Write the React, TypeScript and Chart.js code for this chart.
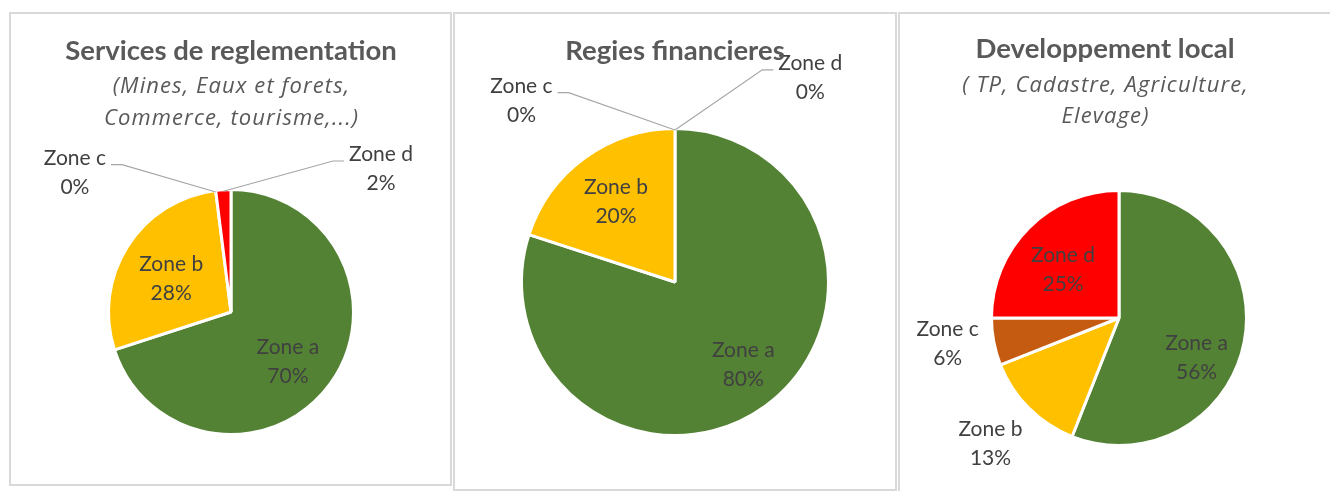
import React, { useEffect, useRef } from "react";
import { Chart, registerables } from "chart.js";

Chart.register(...registerables);

// ---------- data ----------
const categories = ["Zone a", "Zone b", "Zone c", "Zone d"];
const reglementationValues = [70, 28, 0, 2];
const regiesValues = [80, 20, 0, 0];
const developpementValues = [56, 13, 6, 25];
const zoneColors = ["#548235", "#FFC000", "#C55A11", "#FF0000"];

const reglementationTitle = "Services de reglementation";
const reglementationSubtitle = ["(Mines, Eaux et forets,", "Commerce, tourisme,...)"];
const regiesTitle = "Regies financieres";
const regiesSubtitle: string[] = [];
const developpementTitle = "Developpement local";
const developpementSubtitle = ["( TP, Cadastre, Agriculture,", "Elevage)"];

// ---------- style ----------
const FONT = "Lato, 'Open Sans', sans-serif";
const SUB_FONT = "'Open Sans', Lato, sans-serif";
const LABEL_SIZE = 21;
const LABEL_GAP = 29;
const LABEL_CAP = 15;
const BORDER_W = 3;

type Placement =
  | { inside: true; dist: number; shift: number }
  | { inside: false; dx: number; dy: number; leader: boolean }
  | null;

const sliceLabels = {
  id: "sliceLabels",
  afterDatasetsDraw(chart: any, _args: any, opts: any) {
    const ctx = chart.ctx as CanvasRenderingContext2D;
    const meta = chart.getDatasetMeta(0);
    const data: number[] = chart.data.datasets[0].data;
    const labels: string[] = chart.data.labels;
    const total = data.reduce((s, v) => s + v, 0);
    const placements: Placement[] = opts.placements || [];
    ctx.save();
    ctx.font = `${LABEL_SIZE}px ${FONT}`;
    ctx.textAlign = "center";
    ctx.textBaseline = "alphabetic";
    meta.data.forEach((arc: any, i: number) => {
      const p = placements[i];
      if (!p) return;
      const { x, y, startAngle, endAngle, outerRadius } = arc.getProps(
        ["x", "y", "startAngle", "endAngle", "outerRadius"],
        true
      );
      const R = outerRadius - BORDER_W / 2;
      const mid = (startAngle + endAngle) / 2;
      let lx: number;
      let ly: number;
      if (p.inside) {
        const a = mid + (p.shift * Math.PI) / 180;
        lx = x + Math.cos(a) * R * p.dist;
        ly = y + Math.sin(a) * R * p.dist;
      } else {
        lx = x + p.dx * R;
        ly = y + p.dy * R;
      }
      const pct = Math.round((data[i] / total) * 100) + "%";
      const lines = [labels[i], pct];
      ctx.fillStyle = "#404040";
      lines.forEach((t, k) => {
        ctx.fillText(t, lx, ly + (k - 0.5) * LABEL_GAP + LABEL_CAP / 2);
      });
      if (!p.inside && p.leader) {
        const w = Math.max(...lines.map((t) => ctx.measureText(t).width));
        const dir = p.dx < 0 ? 1 : -1;
        const sx = lx + dir * (w / 2 + 5);
        const sy = ly - LABEL_GAP / 2 + LABEL_CAP / 2;
        const ex = x + Math.cos(mid) * R;
        const ey = y + Math.sin(mid) * R;
        ctx.strokeStyle = "#A6A6A6";
        ctx.lineWidth = 1.2;
        ctx.beginPath();
        ctx.moveTo(sx, sy);
        ctx.lineTo(sx + dir * 11, sy);
        ctx.lineTo(ex, ey);
        ctx.stroke();
      }
    });
    ctx.restore();
  },
};

const panelTitle = {
  id: "panelTitle",
  afterDraw(chart: any, _args: any, opts: any) {
    const ctx = chart.ctx as CanvasRenderingContext2D;
    ctx.save();
    ctx.textAlign = "center";
    ctx.textBaseline = "alphabetic";
    ctx.fillStyle = "#595959";
    ctx.font = `bold ${opts.titleSize}px ${FONT}`;
    ctx.fillText(opts.title, opts.x, opts.titleY);
    ctx.font = `italic ${opts.subSize}px ${SUB_FONT}`;
    const spacing = opts.subSpacing || 0;
    try {
      (ctx as any).letterSpacing = `${spacing}px`;
    } catch (e) {
      /* ignore */
    }
    (opts.subtitle as string[]).forEach((t, k) => {
      ctx.fillText(t, opts.x + spacing / 2, opts.subY[k]);
    });
    ctx.restore();
  },
};

interface PanelDef {
  left: number;
  top: number;
  width: number;
  height: number;
  values: number[];
  title: string;
  subtitle: string[];
  cx: number;
  cy: number;
  radius: number;
  titleX: number;
  titleY: number;
  subY: number[];
  placements: Placement[];
}

const panels: PanelDef[] = [
  {
    left: 9,
    top: 12,
    width: 443,
    height: 474,
    values: reglementationValues,
    title: reglementationTitle,
    subtitle: reglementationSubtitle,
    cx: 222,
    cy: 300,
    radius: 122.5,
    titleX: 222,
    titleY: 48,
    subY: [81, 113],
    placements: [
      { inside: true, dist: 0.62, shift: 4.7 },
      { inside: true, dist: 0.57, shift: -2.5 },
      { inside: false, dx: -1.29, dy: -1.16, leader: true },
      { inside: false, dx: 1.24, dy: -1.19, leader: true },
    ],
  },
  {
    left: 453,
    top: 12,
    width: 444,
    height: 479,
    values: regiesValues,
    title: regiesTitle,
    subtitle: regiesSubtitle,
    cx: 222,
    cy: 270,
    radius: 153.5,
    titleX: 222,
    titleY: 48,
    subY: [],
    placements: [
      { inside: true, dist: 0.7, shift: -3.9 },
      { inside: true, dist: 0.66, shift: 0 },
      { inside: false, dx: -1.01, dy: -1.2, leader: true },
      { inside: false, dx: 0.89, dy: -1.35, leader: true },
    ],
  },
  {
    left: 898,
    top: 12,
    width: 444,
    height: 492,
    values: developpementValues,
    title: developpementTitle,
    subtitle: developpementSubtitle,
    cx: 221,
    cy: 306,
    radius: 127.5,
    titleX: 207,
    titleY: 46,
    subY: [80, 111],
    placements: [
      { inside: true, dist: 0.69, shift: 16 },
      { inside: false, dx: -1.02, dy: 0.99, leader: false },
      { inside: false, dx: -1.36, dy: 0.2, leader: false },
      { inside: true, dist: 0.59, shift: -3.8 },
    ],
  },
];

function PiePanel({ def }: { def: PanelDef }) {
  const ref = useRef<HTMLCanvasElement | null>(null);
  useEffect(() => {
    if (!ref.current) return;
    const half = def.radius + 6;
    const chart = new Chart(ref.current, {
      type: "pie",
      data: {
        labels: categories,
        datasets: [
          {
            data: def.values,
            backgroundColor: zoneColors,
            borderColor: "#FFFFFF",
            borderWidth: BORDER_W,
            hoverOffset: 0,
          },
        ],
      },
      options: {
        animation: false,
        responsive: false,
        maintainAspectRatio: false,
        radius: def.radius,
        layout: {
          padding: {
            left: def.cx - half,
            right: def.width - def.cx - half,
            top: def.cy - half,
            bottom: def.height - def.cy - half,
          },
        },
        plugins: {
          legend: { display: false },
          title: { display: false },
          tooltip: { enabled: false },
          sliceLabels: { placements: def.placements },
          panelTitle: {
            title: def.title,
            subtitle: def.subtitle,
            x: def.titleX,
            titleY: def.titleY,
            subY: def.subY,
            titleSize: 27.5,
            subSize: 22,
            subSpacing: 1.1,
          },
        } as any,
      } as any,
      plugins: [sliceLabels, panelTitle],
    });
    return () => chart.destroy();
  }, [def]);
  return (
    <div
      style={{
        position: "absolute",
        left: def.left,
        top: def.top,
        width: def.width,
        height: def.height,
      }}
    >
      <canvas
        ref={ref}
        width={def.width}
        height={def.height}
        style={{ position: "absolute", left: 0, top: 0, width: def.width, height: def.height }}
      />
      <div
        style={{
          position: "absolute",
          left: 0,
          top: 0,
          width: def.width,
          height: def.height,
          boxSizing: "border-box",
          border: "2px solid #D9D9D9",
          pointerEvents: "none",
        }}
      />
    </div>
  );
}

export default function App() {
  return (
    <div
      style={{
        position: "fixed",
        left: 0,
        top: 0,
        width: 1330,
        height: 491,
        background: "#FFFFFF",
        overflow: "hidden",
      }}
    >
      {panels.map((p, i) => (
        <PiePanel key={i} def={p} />
      ))}
    </div>
  );
}
